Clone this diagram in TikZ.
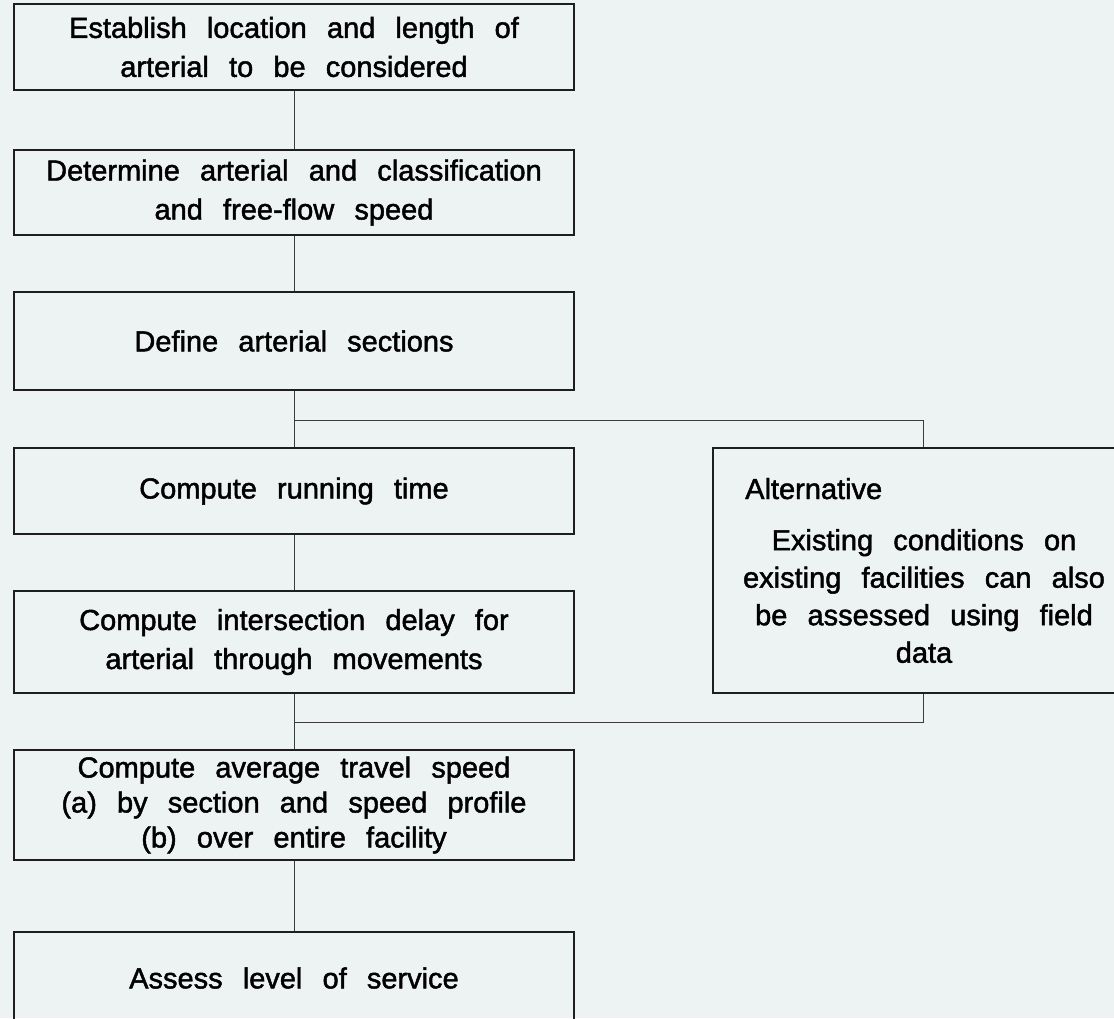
\documentclass[tikz,border=0pt]{standalone}
\usepackage{fontspec}
\setmainfont{Liberation Sans}[WordSpace=2.5,FakeBold=1.6]
\definecolor{bgcol}{RGB}{237,243,243}
\definecolor{edgecol}{RGB}{30,30,30}
\definecolor{linkcol}{RGB}{60,60,60}
\begin{document}
\begin{tikzpicture}[x=1pt,y=-1pt,
  stepbox/.style={draw=edgecol,line width=1.3pt,minimum width=560pt,inner sep=0pt,
    align=center,font=\fontsize{29}{39}\selectfont},
  link/.style={draw=linkcol,line width=1pt}]
\clip (0,0) rectangle (1114,1018);
\fill[bgcol] (0,0) rectangle (1114,1018);

% main column of steps
\node[stepbox,minimum height=86pt]  (b1) at (294,47)    {Establish location and length of\\arterial to be considered};
\node[stepbox,minimum height=85pt]  (b2) at (294,192.5) {Determine arterial and classification\\and free-flow speed};
\node[stepbox,minimum height=98pt]  (b3) at (294,341)   {Define arterial sections};
\node[stepbox,minimum height=86pt]  (b4) at (294,491)   {Compute running time};
\node[stepbox,minimum height=102pt] (b5) at (294,642)   {Compute intersection delay for\\arterial through movements};
\node[stepbox,minimum height=110pt,font=\fontsize{29}{35}\selectfont] (b6) at (294,805)
  {Compute average travel speed\\(a) by section and speed profile\\(b) over entire facility};
\node[stepbox,minimum height=92pt]  (b7) at (294,978)   {Assess level of service};

% alternative path box
\node[draw=edgecol,line width=1.3pt,minimum width=422pt,minimum height=245pt,inner sep=0pt] (alt) at (924,570.5) {};
\node[anchor=base west,inner sep=0pt,font=\fontsize{29}{37}\selectfont] (altt) at (745,499) {Alternative};
\node[anchor=north,inner sep=0pt,align=center,font=\fontsize{29}{37.5}\selectfont] (altx) at (924,529)
  {Existing conditions on\\existing facilities can also\\be assessed using field\\data};

% connectors
\coordinate (split) at (294,420);
\coordinate (merge) at (294,722);
\draw[link] (b1) -- (b2);
\draw[link] (b2) -- (b3);
\draw[link] (b3) -- (b4);
\draw[link] (b4) -- (b5);
\draw[link] (b5) -- (b6);
\draw[link] (b6) -- (b7);
\draw[link] (split) -| (alt.north -| 923,0);
\draw[link] (alt.south -| 923,0) |- (merge);
\end{tikzpicture}
\end{document}
